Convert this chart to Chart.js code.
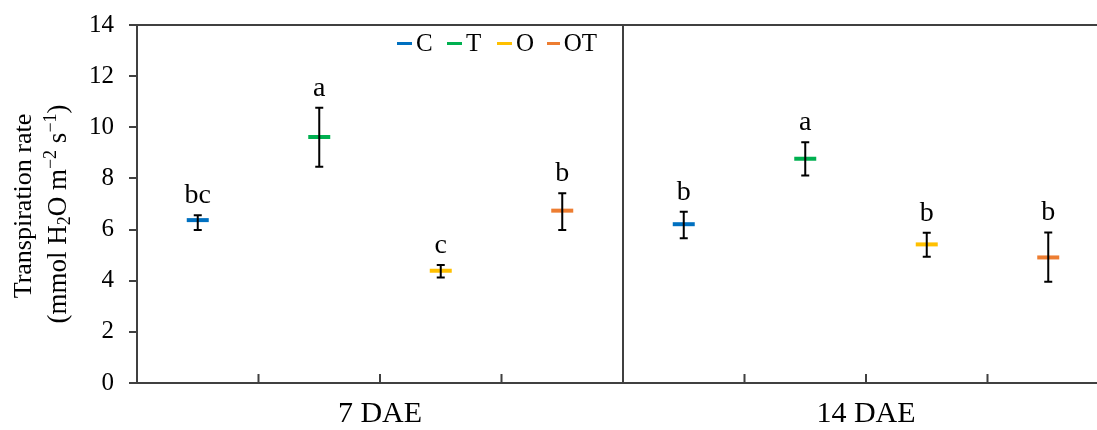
<!DOCTYPE html>
<html>
<head>
<meta charset="utf-8">
<script src="https://cdn.jsdelivr.net/npm/chart.js@4.4.1/dist/chart.umd.min.js"></script>
<style>
  html, body { margin: 0; padding: 0; background: #fff; overflow: hidden; }
  #wrap { position: relative; width: 1115px; height: 430px; }
  #legend { position: absolute; left: 397px; top: 29px; display: flex; font: 25px 'Liberation Serif', 'Times New Roman', serif; color: #000; }
  .item { width: 50px; display: flex; align-items: center; white-space: nowrap; }
  .swatch { display: inline-block; width: 15px; height: 3px; margin-right: 4px; }
</style>
</head>
<body>
<div id="wrap">
  <canvas id="chart" width="1115" height="430"></canvas>
  <div id="legend"></div>
</div>
<script>
// groups on the x axis and the four treatments inside each group
const groups = ['7 DAE', '14 DAE'];
const treatments = ['C', 'T', 'O', 'OT'];
const yTicks = [0, 2, 4, 6, 8, 10, 12, 14];

// means, error bar ends and significance letters, one value per group
const cMean = [6.37, 6.21];
const cLow = [5.98, 5.66];
const cHigh = [6.56, 6.70];
const cLetters = ['bc', 'b'];

const tMean = [9.62, 8.77];
const tLow = [8.46, 8.11];
const tHigh = [10.76, 9.41];
const tLetters = ['a', 'a'];

const oMean = [4.39, 5.42];
const oLow = [4.13, 4.94];
const oHigh = [4.61, 5.88];
const oLetters = ['c', 'b'];

const otMean = [6.74, 4.91];
const otLow = [5.98, 3.96];
const otHigh = [7.42, 5.89];
const otLetters = ['b', 'b'];

const colors = ['#0070C0', '#00B050', '#FFC000', '#ED7D31'];
const axisColor = '#404040';
const serif = "'Liberation Serif', 'Times New Roman', serif";

const series = [
  { mean: cMean, low: cLow, high: cHigh, letters: cLetters },
  { mean: tMean, low: tLow, high: tHigh, letters: tLetters },
  { mean: oMean, low: oLow, high: oHigh, letters: oLetters },
  { mean: otMean, low: otLow, high: otHigh, letters: otLetters }
];

const slots = groups.flatMap(g => treatments.map(t => g + ' ' + t));

// y title pieces: [text, shift]  shift 1 = subscript, -1 = superscript
const yTitle = [
  [['Transpiration rate', 0]],
  [['(mmol H', 0], ['2', 1], ['O m', 0], ['\u22122', -1], [' s', 0], ['\u22121', -1], [')', 0]]
];

Chart.defaults.font.family = serif;
Chart.defaults.color = '#000';

const errorBars = {
  id: 'errorBars',
  afterDatasetsDraw(chart) {
    const ctx = chart.ctx;
    const y = chart.scales.y;
    ctx.save();
    chart.data.datasets.forEach((ds, i) => {
      chart.getDatasetMeta(i).data.forEach((pt, j) => {
        const yl = y.getPixelForValue(ds.low[j]);
        const yh = y.getPixelForValue(ds.high[j]);
        ctx.strokeStyle = '#000';
        ctx.lineWidth = 2;
        ctx.beginPath();
        ctx.moveTo(pt.x, yl); ctx.lineTo(pt.x, yh);
        ctx.moveTo(pt.x - 4, yl); ctx.lineTo(pt.x + 4, yl);
        ctx.moveTo(pt.x - 4, yh); ctx.lineTo(pt.x + 4, yh);
        ctx.stroke();
        ctx.fillStyle = '#000';
        ctx.font = '28px ' + serif;
        ctx.textAlign = 'center';
        ctx.textBaseline = 'alphabetic';
        ctx.fillText(ds.letters[j], pt.x, yh - 12);
      });
    });
    ctx.restore();
  }
};

const frame = {
  id: 'frame',
  beforeDatasetsDraw(chart) {
    const { ctx, chartArea: a } = chart;
    const x = chart.scales.x;
    ctx.save();
    ctx.strokeStyle = axisColor;
    ctx.lineWidth = 2;
    ctx.beginPath();
    ctx.moveTo(a.left, a.top); ctx.lineTo(a.right, a.top);
    // divider between the groups
    const dx = x.getPixelForValue(treatments.length - 0.5);
    ctx.moveTo(dx, a.top); ctx.lineTo(dx, a.bottom);
    // short inward tick marks between slots
    for (let i = 1; i < slots.length; i++) {
      const px = x.getPixelForValue(i - 0.5);
      ctx.moveTo(px, a.bottom); ctx.lineTo(px, a.bottom - 9);
    }
    ctx.stroke();
    ctx.restore();
  }
};

const titlePlugin = {
  id: 'yTitle',
  afterDraw(chart) {
    const ctx = chart.ctx;
    const xs = [24, 59];
    const sizes = [26, 27];
    ctx.save();
    ctx.fillStyle = '#000';
    ctx.textBaseline = 'middle';
    ctx.textAlign = 'left';
    yTitle.forEach((parts, k) => {
      const fontOf = s => (s === 0 ? sizes[k] : 18) + 'px ' + serif;
      let total = 0;
      parts.forEach(([t, s]) => { ctx.font = fontOf(s); total += ctx.measureText(t).width; });
      ctx.save();
      ctx.translate(xs[k], 206 + k * 8);
      ctx.rotate(-Math.PI / 2);
      let px = -total / 2;
      parts.forEach(([t, s]) => {
        ctx.font = fontOf(s);
        const dy = s === 1 ? 6 : s === -1 ? -8 : 0;
        ctx.fillText(t, px, dy);
        px += ctx.measureText(t).width;
      });
      ctx.restore();
    });
    ctx.restore();
  }
};

const pad = { left: 89, right: 6, top: 25, bottom: 0 };
// wanted plot box inside the canvas
const target = { left: 137, top: 25, right: 1109, bottom: 383 };

const chart = new Chart(document.getElementById('chart'), {
  type: 'line',
  data: {
    labels: slots,
    datasets: series.map((s, i) => ({
      label: treatments[i],
      xAxisID: 'x',
      yAxisID: 'y',
      data: groups.map((g, j) => ({ x: g + ' ' + treatments[i], y: s.mean[j] })),
      low: s.low,
      high: s.high,
      letters: s.letters,
      showLine: false,
      pointStyle: 'line',
      pointRadius: 11,
      pointHoverRadius: 11,
      pointBorderWidth: 4,
      borderColor: colors[i],
      backgroundColor: colors[i]
    }))
  },
  options: {
    responsive: false,
    animation: false,
    events: [],
    layout: { autoPadding: false, padding: pad },
    plugins: { legend: { display: false }, tooltip: { enabled: false } },
    scales: {
      x: {
        type: 'category',
        labels: slots,
        offset: true,
        grid: { display: false, drawTicks: false },
        border: { display: true, color: axisColor, width: 2 },
        ticks: { display: false }
      },
      x2: {
        type: 'category',
        labels: groups,
        position: 'bottom',
        offset: true,
        grid: { display: false, drawTicks: false },
        border: { display: false },
        ticks: { font: { size: 30, lineHeight: 1 }, color: '#000', padding: 16, maxRotation: 0 }
      },
      y: {
        min: 0,
        max: 14,
        afterBuildTicks: s => { s.ticks = yTicks.map(v => ({ value: v })); },
        ticks: { font: { size: 25, lineHeight: 0.5 }, color: '#000', padding: 15 },
        grid: { drawOnChartArea: false, tickLength: 8, color: axisColor, lineWidth: 2 },
        border: { color: axisColor, width: 2 }
      }
    }
  },
  plugins: [frame, errorBars, titlePlugin]
});

// nudge the padding until the plot box sits where the reference has it
for (let k = 0; k < 4; k++) {
  const ca = chart.chartArea;
  pad.left += target.left - ca.left;
  pad.top += target.top - ca.top;
  pad.right += ca.right - target.right;
  pad.bottom += ca.bottom - target.bottom;
  chart.options.layout.padding = Object.assign({}, pad);
  chart.update();
}

const legend = document.getElementById('legend');
treatments.forEach((t, i) => {
  const item = document.createElement('div');
  item.className = 'item';
  const sw = document.createElement('span');
  sw.className = 'swatch';
  sw.style.background = colors[i];
  item.appendChild(sw);
  item.appendChild(document.createTextNode(t));
  legend.appendChild(item);
});
</script>
</body>
</html>
